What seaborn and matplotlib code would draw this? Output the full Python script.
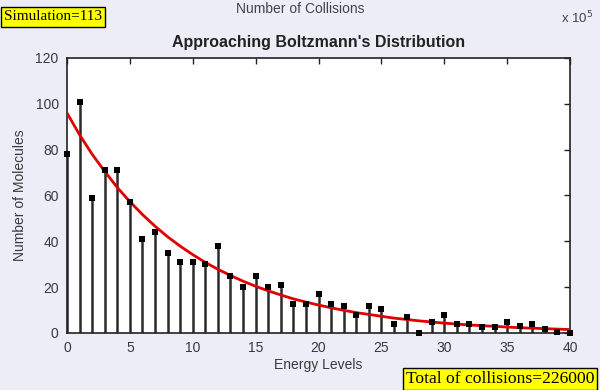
import numpy as np
import pandas as pd
import seaborn as sns
import matplotlib
matplotlib.use("Agg")
import matplotlib.pyplot as plt

energy_levels = list(range(0, 41))
molecules = [78, 101, 59, 71, 71, 57, 41, 44, 35, 31, 31, 30, 38, 25, 20, 25, 20, 21,
             12.5, 12.5, 17, 12.5, 11.6, 8, 11.6, 10.6, 3.8, 7, 0, 4.8, 8, 3.8, 3.8,
             2.8, 2.8, 4.8, 3, 3.9, 1.6, 0.4, 0]
fit_values = [96, 86.5, 78, 70.5, 63.5, 57.3, 51.7, 46.6, 42, 37.9, 34.2, 30.8, 27.8,
              25.1, 22.6, 20.4, 18.4, 16.6, 14.9, 13.5, 12.2, 11, 9.9, 8.9, 8.1, 7.3,
              6.5, 5.9, 5.3, 4.8, 4.3, 3.9, 3.5, 3.2, 2.9, 2.6, 2.3, 2.1, 1.9, 1.7, 1.5]
x_ticks = [0, 5, 10, 15, 20, 25, 30, 35, 40]
y_ticks = [0, 20, 40, 60, 80, 100, 120]

df = pd.DataFrame({"level": energy_levels, "count": molecules, "fit": fit_values})

sns.set_theme(style="white")
plt.rcParams['font.family'] = ['Liberation Sans', 'DejaVu Sans']

bg = '#EDEDF7'
fig = plt.figure(figsize=(6.0, 3.9), dpi=100, facecolor=bg)
W, H = 600, 390
ax = fig.add_axes([67 / W, 1 - 333 / H, (570 - 67) / W, (333 - 58) / H])
ax.set_facecolor('white')

ax.vlines(df["level"], 0, df["count"], colors='#2a2a2a', linewidth=1.8, zorder=2)
sns.scatterplot(data=df, x="level", y="count", marker='s', s=22, color='black',
                edgecolor='black', linewidth=0, ax=ax, zorder=4, clip_on=False)
sns.lineplot(data=df, x="level", y="fit", color='#e00000', linewidth=2.0, ax=ax, zorder=3)

ax.set_xlim(0, 40)
ax.set_ylim(0, 120)
ax.set_xticks(x_ticks)
ax.set_yticks(y_ticks)
ax.tick_params(direction='in', length=4, width=1, colors='#222222', labelsize=10,
               top=True, right=True, labelcolor='#3a3a3a', pad=6)
for s in ax.spines.values():
    s.set_visible(True)
    s.set_color('#222222')
    s.set_linewidth(1.2)

ax.set_xlabel("Energy Levels", fontsize=10, color='#3a3a3a', labelpad=2)
ax.set_ylabel("Number of Molecules", fontsize=10, color='#3a3a3a', labelpad=6)
ax.set_title("Approaching Boltzmann's Distribution", fontsize=11.5, fontweight='bold',
             color='#222222', pad=8)

fig.text(300 / W, 1 - 9 / H, "Number of Collisions", ha='center', va='center',
         fontsize=10, color='#444444')
fig.text(577 / W, 1 - 18 / H, r"x 10$^5$", ha='center', va='center',
         fontsize=9.5, color='#444444')
fig.text(4 / W, 1 - 17 / H, "Simulation=113", ha='left', va='center',
         fontsize=11, family=['Liberation Serif', 'DejaVu Serif'], color='black',
         bbox=dict(boxstyle='square,pad=0.2', facecolor='#ffff00', edgecolor='black', linewidth=1))
fig.text(406 / W, 1 - 379 / H, "Total of collisions=226000", ha='left', va='center',
         fontsize=12.6, family=['Liberation Serif', 'DejaVu Serif'], color='black',
         bbox=dict(boxstyle='square,pad=0.15', facecolor='#ffff00', edgecolor='black', linewidth=1))

fig.savefig("out.png", dpi=100, facecolor=bg)
